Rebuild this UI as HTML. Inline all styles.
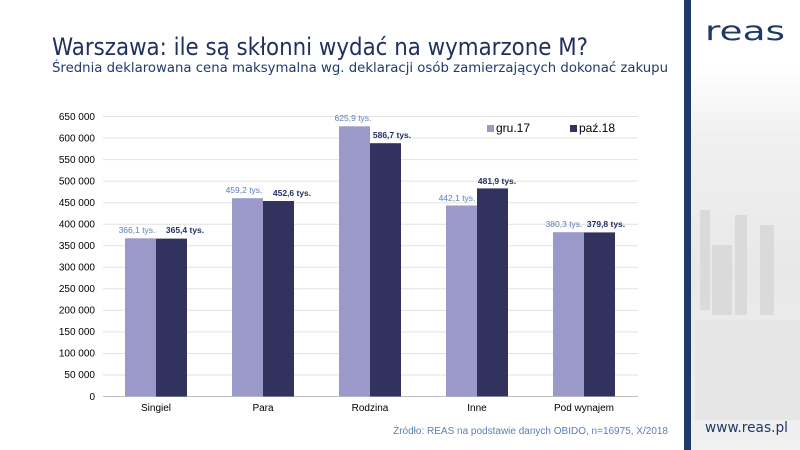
<!DOCTYPE html>
<html><head><meta charset="utf-8"><style>
body{margin:0;width:800px;height:450px;overflow:hidden;background:#fff;font-family:"Liberation Sans",sans-serif;}
</style></head><body>
<svg width="800" height="450" xmlns="http://www.w3.org/2000/svg" style="position:absolute;left:0;top:0">
<defs>
<linearGradient id="g" x1="0" y1="0" x2="0" y2="1">
<stop offset="0" stop-color="#ffffff"/><stop offset="0.15" stop-color="#ffffff"/><stop offset="0.3" stop-color="#f0f0f0"/><stop offset="0.6" stop-color="#e8e8e8"/><stop offset="1" stop-color="#f0f0f0"/>
</linearGradient>
</defs>
<rect x="690" y="0" width="110" height="450" fill="url(#g)"/>
<g fill="#dadada">
<rect x="700" y="210" width="10" height="100"/><rect x="735" y="215" width="12" height="100"/><rect x="760" y="225" width="14" height="90"/><rect x="712" y="245" width="20" height="70"/>
<rect x="695" y="320" width="105" height="100" fill="#e6e6e6"/>
</g>
<rect x="684" y="0" width="7" height="450" fill="#1f3a68"/>
<text x="705" y="40" font-size="27" fill="#1f3a68" textLength="80" lengthAdjust="spacingAndGlyphs" font-family="DejaVu Sans" font-weight="normal">reas</text>
<text x="705" y="432" font-size="14" fill="#1f3a68" textLength="83" lengthAdjust="spacingAndGlyphs" font-family="DejaVu Sans">www.reas.pl</text>
<text x="52" y="55" font-size="24" fill="#1f2f5e" font-family="DejaVu Sans" textLength="536" lengthAdjust="spacingAndGlyphs">Warszawa: ile są skłonni wydać na wymarzone M?</text>
<text x="52" y="72" font-size="13" fill="#1f3a6e" font-family="DejaVu Sans" textLength="616" lengthAdjust="spacingAndGlyphs">Średnia deklarowana cena maksymalna wg. deklaracji osób zamierzających dokonać zakupu</text>
<g stroke="#e2e2e2" stroke-width="1">
<line x1="103" x2="638" y1="116.5" y2="116.5"/><line x1="103" x2="638" y1="138" y2="138"/><line x1="103" x2="638" y1="159.6" y2="159.6"/><line x1="103" x2="638" y1="181.1" y2="181.1"/><line x1="103" x2="638" y1="202.7" y2="202.7"/><line x1="103" x2="638" y1="224.2" y2="224.2"/><line x1="103" x2="638" y1="245.8" y2="245.8"/><line x1="103" x2="638" y1="267.3" y2="267.3"/><line x1="103" x2="638" y1="288.8" y2="288.8"/><line x1="103" x2="638" y1="310.4" y2="310.4"/><line x1="103" x2="638" y1="331.9" y2="331.9"/><line x1="103" x2="638" y1="353.5" y2="353.5"/><line x1="103" x2="638" y1="375" y2="375"/>
</g>
<line x1="103" x2="638" y1="396.5" y2="396.5" stroke="#bfbfbf"/>
<g font-size="10" fill="#000" text-anchor="end">
<text x="95" y="120">650 000</text><text x="95" y="141.5">600 000</text><text x="95" y="163">550 000</text><text x="95" y="184.5">500 000</text><text x="95" y="206">450 000</text><text x="95" y="227.5">400 000</text><text x="95" y="249">350 000</text><text x="95" y="270.5">300 000</text><text x="95" y="292">250 000</text><text x="95" y="313.5">200 000</text><text x="95" y="335">150 000</text><text x="95" y="356.5">100 000</text><text x="95" y="378">50 000</text><text x="95" y="400">0</text>
</g>
<g fill="#9b99c9">
<rect x="125" y="238.3" width="31" height="158"/><rect x="232" y="198.2" width="31" height="198"/><rect x="339" y="126.3" width="31" height="270"/><rect x="446" y="205.5" width="31" height="191"/><rect x="553" y="232.2" width="31" height="164"/>
</g>
<g fill="#32325e">
<rect x="156" y="238.6" width="31" height="158"/><rect x="263" y="201" width="31" height="195.5"/><rect x="370" y="143.2" width="31" height="253.3"/><rect x="477" y="188.4" width="31" height="208"/><rect x="584" y="232.4" width="31" height="164"/>
</g>
<g font-size="8.5" fill="#5b7fb5" text-anchor="middle">
<text x="137" y="233">366,1 tys.</text><text x="244" y="193">459,2 tys.</text><text x="353" y="121">625,9 tys.</text><text x="457" y="201">442,1 tys.</text><text x="564" y="227">380,3 tys.</text>
</g>
<g font-size="8.5" fill="#1f2f5e" font-weight="bold" text-anchor="middle">
<text x="185" y="233">365,4 tys.</text><text x="292" y="196">452,6 tys.</text><text x="392" y="138">586,7 tys.</text><text x="497" y="184">481,9 tys.</text><text x="606" y="227">379,8 tys.</text>
</g>
<g font-size="10" fill="#000" text-anchor="middle">
<text x="156" y="411">Singiel</text><text x="263" y="411">Para</text><text x="370" y="411">Rodzina</text><text x="477" y="411">Inne</text><text x="584" y="411">Pod wynajem</text>
</g>
<rect x="487" y="125" width="7" height="7" fill="#9b99c9"/><text x="496" y="132" font-size="12">gru.17</text>
<rect x="570" y="125" width="7" height="7" fill="#32325e"/><text x="579" y="132" font-size="12">paź.18</text>
<text x="668" y="434" font-size="10" fill="#5b7fb5" text-anchor="end">Źródło: REAS na podstawie danych OBIDO, n=16975, X/2018</text>
</svg>
</body></html>
